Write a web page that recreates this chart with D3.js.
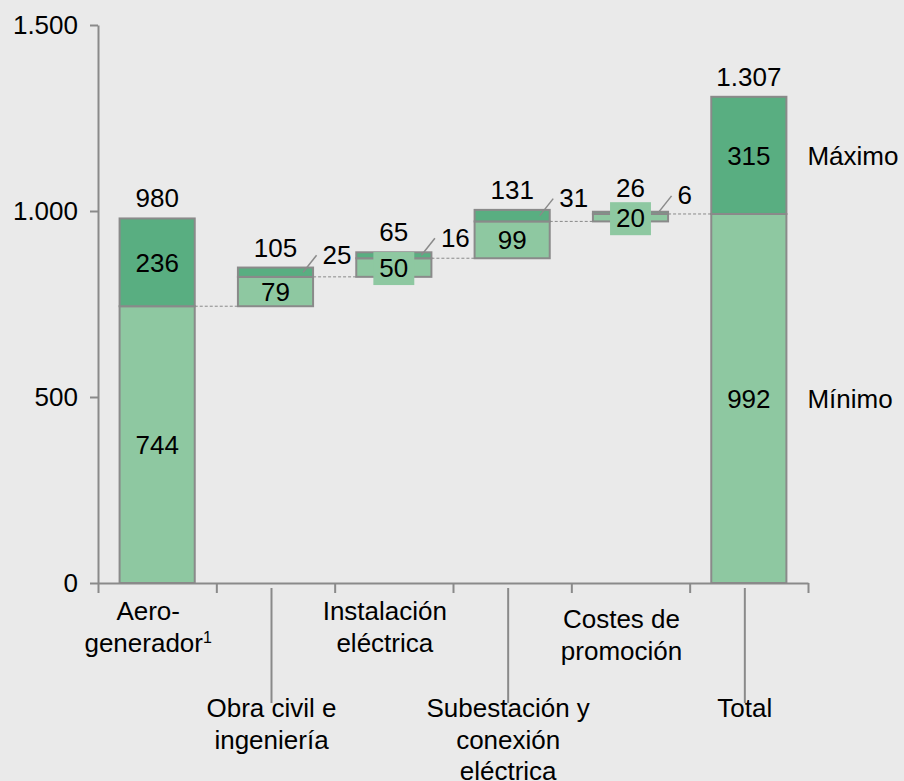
<!DOCTYPE html>
<html>
<head>
<meta charset="utf-8">
<script src="https://cdn.jsdelivr.net/npm/d3@7"></script>
<style>
  html, body { margin: 0; padding: 0; background: #eaeaea; }
  svg { display: block; }
  text { font-family: "Liberation Sans", Arial, sans-serif; fill: #000; }
</style>
</head>
<body>
<script>
// Waterfall of wind-farm investment cost ranges (minimum / maximum per component)
const categories = ["Aerogenerador", "Obra civil e ingeniería", "Instalación eléctrica",
                    "Subestación y conexión eléctrica", "Costes de promoción", "Total"];
const categoryLines = [["Aero-", "generador¹"], ["Obra civil e", "ingeniería"], ["Instalación", "eléctrica"],
                       ["Subestación y", "conexión", "eléctrica"], ["Costes de", "promoción"], ["Total"]];
const minValues   = [744, 79, 50, 99, 20, 992];
const extraValues = [236, 25, 16, 31, 6, 315];
const maxValues   = [980, 105, 65, 131, 26, 1307];
const seriesNames = ["Mínimo", "Máximo"];
const yTicks = [0, 500, 1000, 1500];

const W = 904, H = 781;
const FONT = 26;
const gray = "#8a8a8a";
const darkGreen = "#59ae81";
const lightGreen = "#8ec8a1";

const esLocale = d3.formatLocale({ decimal: ",", thousands: ".", grouping: [3], currency: ["", " €"] });
const fmt = esLocale.format(",d");

const svg = d3.select("body").append("svg").attr("width", W).attr("height", H);
svg.append("rect").attr("width", W).attr("height", H).attr("fill", "#eaeaea");

const y = d3.scaleLinear().domain([0, 1500]).range([583, 25]);
const x = d3.scaleBand().domain(categories).range([98, 808]).paddingInner(0).paddingOuter(0);
const barW = x.bandwidth() * 0.635;
const n = categories.length;

// Stack positions: intermediate bars float on the running sum of minimums, the total starts at 0
const rows = categories.map((c, i) => {
  const isTotal = i === n - 1;
  const base = isTotal ? 0 : d3.sum(minValues.slice(0, i));
  const cx = x(c) + x.bandwidth() / 2;
  return {
    c, i, isTotal, cx,
    left: cx - barW / 2, right: cx + barW / 2,
    lo: base, mid: base + minValues[i], hi: base + minValues[i] + extraValues[i]
  };
});

// Dashed connectors between consecutive bars at the running minimum
const conn = svg.append("g");
rows.slice(0, n - 1).forEach((r, k) => {
  const next = rows[k + 1];
  conn.append("line")
    .attr("x1", r.right).attr("x2", next.left)
    .attr("y1", y(r.mid)).attr("y2", y(r.mid))
    .attr("stroke", gray).attr("stroke-width", 1).attr("stroke-dasharray", "3,2");
});

// Bars
const bars = svg.append("g");
rows.forEach(r => {
  bars.append("rect")
    .attr("x", r.left).attr("width", barW)
    .attr("y", y(r.mid)).attr("height", y(r.lo) - y(r.mid))
    .attr("fill", lightGreen).attr("stroke", gray).attr("stroke-width", 2);
  bars.append("rect")
    .attr("x", r.left).attr("width", barW)
    .attr("y", y(r.hi)).attr("height", y(r.mid) - y(r.hi))
    .attr("fill", darkGreen).attr("stroke", gray).attr("stroke-width", 2);
});

// Axes
const yAxis = svg.append("g").attr("transform", "translate(98,0)")
  .call(d3.axisLeft(y).tickValues(yTicks).tickFormat(fmt).tickSize(8).tickPadding(12).tickSizeOuter(0));
const edge = d3.scaleLinear().domain([0, n]).range([98, 808]);
const xAxis = svg.append("g").attr("transform", `translate(0,${y(0)})`)
  .call(d3.axisBottom(edge).tickValues(d3.range(n + 1)).tickFormat("").tickSize(10).tickSizeOuter(0));
[yAxis, xAxis].forEach(a => {
  a.selectAll("path, line").attr("stroke", gray).attr("stroke-width", 2);
  a.selectAll("text").attr("font-size", FONT).attr("font-family", "Liberation Sans, Arial, sans-serif").attr("fill", "#000");
});

// Value labels
const labels = svg.append("g").attr("font-size", FONT);
const SMALL = 24;

function centered(xp, yp, txt, boxed) {
  const g = labels.append("g");
  const t = g.append("text").attr("x", xp).attr("y", yp).attr("dy", "0.36em")
    .attr("text-anchor", "middle").text(txt);
  let boxTop = null;
  if (boxed) {
    const w = t.node().getComputedTextLength() + 12;
    const h = 33;
    boxTop = yp - h / 2 + 1;
    g.insert("rect", "text").attr("x", xp - w / 2).attr("y", boxTop)
      .attr("width", w).attr("height", h).attr("fill", lightGreen);
  }
  return boxTop;
}

rows.forEach(r => {
  const minH = y(r.lo) - y(r.mid);
  const extraH = y(r.mid) - y(r.hi);
  const boxTop = centered(r.cx, (y(r.lo) + y(r.mid)) / 2, fmt(minValues[r.i]), minH < SMALL);

  const extraMid = (y(r.mid) + y(r.hi)) / 2;
  if (extraH < SMALL) {
    const x1 = r.right - 10, y1 = extraMid;
    const x2 = r.right + 3.5, y2 = extraMid - 17;
    labels.append("line").attr("x1", x1).attr("y1", y1).attr("x2", x2).attr("y2", y2)
      .attr("stroke", gray).attr("stroke-width", 1.5);
    labels.append("text").attr("x", x2 + 6).attr("y", y2 - 1).attr("dy", "0.36em")
      .text(fmt(extraValues[r.i]));
  } else {
    centered(r.cx, extraMid, fmt(extraValues[r.i]), false);
  }

  let base = y(r.hi) - 11;
  if (boxTop !== null) base = Math.min(base, boxTop - 5);
  labels.append("text").attr("x", r.cx).attr("y", base).attr("text-anchor", "middle")
    .text(fmt(maxValues[r.i]));
});

// Series names beside the total bar
const tot = rows[n - 1];
labels.append("text").attr("x", tot.right + 21).attr("y", (y(tot.lo) + y(tot.mid)) / 2).attr("dy", "0.36em")
  .text(seriesNames[0]);
labels.append("text").attr("x", tot.right + 21).attr("y", (y(tot.mid) + y(tot.hi)) / 2).attr("dy", "0.36em")
  .text(seriesNames[1]);

// Category labels, alternating between an upper row and a lower row with leader lines
const cat = svg.append("g").attr("font-size", FONT);
const lineStep = 31.5;
const upperNudge = { "Costes de promoción": 8 };
rows.forEach(r => {
  const lower = r.i % 2 === 1;
  const cx = r.cx + (lower ? -4 : -9);
  const firstBase = lower ? 717 : 620 + (upperNudge[r.c] || 0);
  if (lower) {
    cat.append("line").attr("x1", cx).attr("x2", cx).attr("y1", y(0) + 5).attr("y2", firstBase - 14)
      .attr("stroke", gray).attr("stroke-width", 2);
  }
  categoryLines[r.i].forEach((ln, j) => {
    const t = cat.append("text").attr("x", cx).attr("y", firstBase + j * lineStep).attr("text-anchor", "middle");
    const parts = ln.split("¹");
    t.append("tspan").text(parts[0]);
    if (parts.length > 1) {
      t.append("tspan").attr("font-size", 16).attr("dy", -9).text("1");
    }
  });
});
</script>
</body>
</html>
